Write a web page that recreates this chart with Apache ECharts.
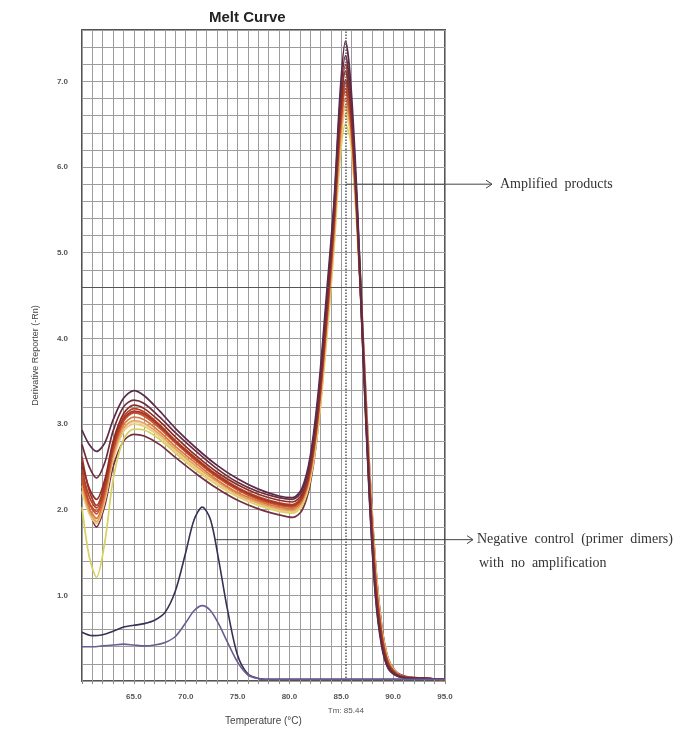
<!DOCTYPE html>
<html>
<head>
<meta charset="utf-8">
<title>Melt Curve</title>
<script src="https://cdn.jsdelivr.net/npm/echarts@6.0.0/dist/echarts.min.js"></script>
<style>
	html, body { margin: 0; padding: 0; background: #fff; }
	#melt-chart { width: 694px; height: 737px; }
</style>
</head>
<body>
<div id="melt-chart"></div>
<script>
/*DATA*/
var temps = [60, 60.7, 61.4, 62.2, 63, 64, 65, 66, 67.5, 69, 71, 73, 75, 77, 79, 80.3, 81.2, 82, 82.8, 83.6, 84.3, 84.9, 85.4, 85.9, 86.5, 87.1, 87.7, 88.3, 88.9, 89.5, 90.2, 91, 93, 95];

var amp01 = [2.93, 2.76, 2.68, 2.78, 3.05, 3.30, 3.39, 3.33, 3.15, 2.95, 2.72, 2.52, 2.36, 2.24, 2.16, 2.14, 2.25, 2.62, 3.40, 4.55, 5.60, 6.90, 7.47, 7.00, 5.70, 3.90, 2.20, 1.00, 0.42, 0.16, 0.07, 0.04, 0.03, 0.02];
var amp02 = [2.76, 2.50, 2.37, 2.55, 2.92, 3.20, 3.28, 3.24, 3.08, 2.90, 2.68, 2.48, 2.32, 2.21, 2.14, 2.12, 2.22, 2.58, 3.32, 4.45, 5.55, 6.78, 7.30, 6.85, 5.55, 3.80, 2.15, 0.98, 0.40, 0.15, 0.07, 0.04, 0.03, 0.02];
var amp03 = [2.55, 2.25, 2.12, 2.35, 2.80, 3.12, 3.22, 3.18, 3.03, 2.85, 2.63, 2.44, 2.29, 2.18, 2.11, 2.09, 2.18, 2.52, 3.25, 4.35, 5.45, 6.62, 7.12, 6.70, 5.50, 3.82, 2.20, 1.05, 0.45, 0.18, 0.08, 0.04, 0.03, 0.02];
var amp04 = [2.47, 2.15, 2.02, 2.28, 2.74, 3.08, 3.18, 3.14, 2.99, 2.81, 2.60, 2.41, 2.26, 2.15, 2.08, 2.06, 2.15, 2.48, 3.20, 4.30, 5.40, 6.55, 6.98, 6.62, 5.48, 3.85, 2.28, 1.12, 0.50, 0.20, 0.09, 0.05, 0.03, 0.02];
var amp05 = [2.40, 2.08, 1.95, 2.22, 2.70, 3.03, 3.13, 3.09, 2.95, 2.78, 2.57, 2.38, 2.23, 2.12, 2.05, 2.03, 2.12, 2.44, 3.15, 4.22, 5.32, 6.45, 6.88, 6.55, 5.45, 3.90, 2.35, 1.18, 0.52, 0.21, 0.09, 0.05, 0.03, 0.02];
var amp06 = [2.34, 2.02, 1.90, 2.18, 2.66, 2.99, 3.08, 3.05, 2.91, 2.74, 2.54, 2.35, 2.20, 2.10, 2.03, 2.01, 2.10, 2.42, 3.12, 4.18, 5.25, 6.38, 6.80, 6.50, 5.42, 3.92, 2.40, 1.22, 0.55, 0.22, 0.10, 0.05, 0.03, 0.02];
var amp07 = [2.28, 1.98, 1.86, 2.14, 2.62, 2.95, 3.04, 3.01, 2.88, 2.71, 2.51, 2.33, 2.18, 2.08, 2.01, 1.99, 2.08, 2.40, 3.08, 4.12, 5.18, 6.30, 6.72, 6.45, 5.40, 3.95, 2.45, 1.28, 0.58, 0.24, 0.10, 0.05, 0.03, 0.02];
var amp08 = [2.22, 1.95, 1.84, 2.10, 2.58, 2.91, 3.00, 2.97, 2.85, 2.68, 2.48, 2.30, 2.16, 2.06, 1.99, 1.97, 2.05, 2.36, 3.02, 4.05, 5.10, 6.22, 6.62, 6.38, 5.35, 3.92, 2.48, 1.32, 0.60, 0.25, 0.11, 0.05, 0.03, 0.02];
var amp09 = [2.03, 1.45, 1.21, 1.62, 2.35, 2.82, 2.94, 2.93, 2.82, 2.66, 2.46, 2.29, 2.15, 2.05, 1.98, 1.96, 2.04, 2.34, 2.98, 4.00, 5.05, 6.12, 6.50, 6.30, 5.30, 3.90, 2.50, 1.35, 0.62, 0.26, 0.11, 0.05, 0.03, 0.02];
var amp10 = [2.50, 2.02, 1.80, 2.05, 2.50, 2.80, 2.88, 2.86, 2.76, 2.61, 2.42, 2.25, 2.11, 2.01, 1.94, 1.91, 1.99, 2.30, 3.00, 4.10, 5.20, 6.40, 7.02, 6.72, 5.60, 4.05, 2.55, 1.38, 0.65, 0.27, 0.12, 0.06, 0.03, 0.02];
var amp11 = [2.62, 2.22, 2.05, 2.30, 2.76, 3.06, 3.15, 3.12, 2.98, 2.80, 2.59, 2.40, 2.25, 2.14, 2.07, 2.05, 2.14, 2.47, 3.18, 4.28, 5.38, 6.58, 7.20, 6.80, 5.58, 3.95, 2.35, 1.15, 0.50, 0.20, 0.09, 0.05, 0.03, 0.02];
var amp12 = [2.36, 2.08, 1.98, 2.24, 2.70, 3.04, 3.14, 3.11, 2.97, 2.79, 2.58, 2.39, 2.24, 2.13, 2.06, 2.04, 2.13, 2.46, 3.16, 4.25, 5.35, 6.50, 6.92, 6.60, 5.50, 3.98, 2.42, 1.22, 0.55, 0.22, 0.10, 0.05, 0.03, 0.02];
var amp13 = [2.20, 1.96, 1.88, 2.12, 2.60, 2.93, 3.02, 2.99, 2.86, 2.70, 2.50, 2.32, 2.17, 2.07, 2.00, 1.98, 2.06, 2.38, 3.05, 4.08, 5.15, 6.28, 6.68, 6.42, 5.38, 3.95, 2.50, 1.30, 0.60, 0.24, 0.10, 0.05, 0.03, 0.02];

// negative controls (primer dimers)
var negTemps = [60, 61, 62, 63, 64, 65, 66, 67, 68, 69, 70, 70.8, 71.6, 72.4, 73.2, 74, 75, 76, 77, 78, 80, 85, 90, 95];
var negA = [0.57, 0.53, 0.54, 0.58, 0.63, 0.65, 0.67, 0.71, 0.80, 1.05, 1.50, 1.88, 2.03, 1.88, 1.40, 0.85, 0.30, 0.08, 0.03, 0.02, 0.02, 0.02, 0.02, 0.02];
var negB = [0.40, 0.40, 0.41, 0.42, 0.43, 0.42, 0.41, 0.42, 0.45, 0.52, 0.68, 0.82, 0.88, 0.82, 0.66, 0.46, 0.22, 0.07, 0.03, 0.02, 0.02, 0.02, 0.02, 0.02];

var tmValue = 85.44;
var thresholdValue = 4.6;
var xLabels = [65, 70, 75, 80, 85, 90, 95];
var yLabels = [1, 2, 3, 4, 5, 6, 7];

var ampCurves = [amp10, amp13, amp09, amp08, amp07, amp06, amp05, amp12, amp04, amp11, amp03, amp02, amp01];
var ampColors = ['#74303f', '#f0d9a8', '#d8d060', '#ebcd80', '#e3a462', '#d9773d', '#c9562f', '#c8482a', '#b5432b', '#a5392a', '#8c2e24', '#6e2c3c', '#5b2b4b'];

/*MELT CURVE*/
function meltCurve(){
	var dom = document.getElementById('melt-chart');
	var myChart = echarts.init(dom, null, {
		renderer: 'canvas',
		useDirtyRect: false
	});

	function pairs(xs, ys){
		return xs.map(function(x, i){ return [x, ys[i]]; });
	}

	var series = [];
	ampCurves.forEach(function(curve, i){
		series.push({
			type: 'line',
			data: pairs(temps, curve),
			smooth: 0.3,
			showSymbol: false,
			lineStyle: { color: ampColors[i], width: 1.7 },
			z: 3
		});
	});
	series.push({
		type: 'line',
		data: pairs(negTemps, negA),
		smooth: 0.3,
		showSymbol: false,
		lineStyle: { color: '#3b2f55', width: 1.6 },
		z: 3
	});
	series.push({
		type: 'line',
		data: pairs(negTemps, negB),
		smooth: 0.3,
		showSymbol: false,
		lineStyle: { color: '#6c5c92', width: 1.6 },
		z: 3,
		markLine: {
			silent: true,
			symbol: 'none',
			label: { show: false },
			data: [
				{ xAxis: tmValue, lineStyle: { type: 'dotted', color: '#555', width: 1.5 } },
				{ yAxis: thresholdValue, lineStyle: { type: 'solid', color: '#555', width: 1 } }
			]
		}
	});

	var option = {
		animation: false,
		backgroundColor: '#fff',
		title: {
			text: 'Melt Curve',
			left: 204,
			top: 5,
			textStyle: {
				fontFamily: 'Liberation Sans',
				fontSize: 15,
				fontWeight: 'bold',
				color: '#222'
			}
		},
		grid: {
			left: 82,
			right: 249,
			top: 30,
			bottom: 56,
			show: true,
			borderColor: '#555',
			borderWidth: 2
		},
		xAxis: {
			type: 'value',
			min: 60,
			max: 95,
			interval: 1,
			name: 'Temperature (°C)',
			nameLocation: 'middle',
			nameGap: 35,
			nameTextStyle: { fontFamily: 'Liberation Sans', fontSize: 10, color: '#444' },
			axisLine: { show: false },
			axisTick: { show: true, length: 3, lineStyle: { color: '#888' } },
			axisLabel: {
				margin: 12,
				fontFamily: 'Liberation Sans',
				fontSize: 8,
				fontWeight: 'bold',
				color: '#555',
				formatter: function(v){
					return xLabels.indexOf(Math.round(v * 10) / 10) >= 0 ? v.toFixed(1) : '';
				}
			},
			splitLine: { show: true, lineStyle: { color: '#9c9c9c', width: 1 } }
		},
		yAxis: {
			type: 'value',
			min: 0,
			max: 7.6,
			interval: 0.2,
			name: 'Derivative Reporter (-Rn)',
			nameLocation: 'middle',
			nameGap: 42,
			nameTextStyle: { fontFamily: 'Liberation Sans', fontSize: 9, color: '#444' },
			axisLine: { show: false },
			axisTick: { show: false },
			axisLabel: {
				margin: 14,
				fontFamily: 'Liberation Sans',
				fontSize: 8,
				fontWeight: 'bold',
				color: '#555',
				formatter: function(v){
					var r = Math.round(v * 10) / 10;
					return yLabels.indexOf(r) >= 0 ? r.toFixed(1) : '';
				}
			},
			splitLine: { show: true, lineStyle: { color: '#9c9c9c', width: 1 } }
		},
		series: series
	};

	if (option && typeof option === 'object') {
		myChart.setOption(option);
	}

	// annotations anchored on data coordinates
	var ampStart = myChart.convertToPixel({ gridIndex: 0 }, [tmValue, 5.8]);
	var negStart = myChart.convertToPixel({ gridIndex: 0 }, [72.8, 1.65]);
	var tmPos = myChart.convertToPixel({ gridIndex: 0 }, [tmValue, 0]);
	var ampEnd = 492;
	var negEnd = 473;

	myChart.setOption({
		graphic: [
			{
				type: 'line',
				shape: { x1: ampStart[0], y1: ampStart[1], x2: ampEnd, y2: ampStart[1] },
				style: { stroke: '#444', lineWidth: 1 },
				z: 10
			},
			{
				type: 'polyline',
				shape: { points: [[ampEnd - 6, ampStart[1] - 4], [ampEnd, ampStart[1]], [ampEnd - 6, ampStart[1] + 4]] },
				style: { stroke: '#444', lineWidth: 1, fill: null },
				z: 10
			},
			{
				type: 'text',
				x: ampEnd + 8,
				y: ampStart[1],
				style: {
					text: 'Amplified  products',
					font: '14px "Liberation Serif"',
					fill: '#333',
					verticalAlign: 'middle'
				},
				z: 10
			},
			{
				type: 'line',
				shape: { x1: negStart[0], y1: negStart[1], x2: negEnd, y2: negStart[1] },
				style: { stroke: '#444', lineWidth: 1 },
				z: 10
			},
			{
				type: 'polyline',
				shape: { points: [[negEnd - 6, negStart[1] - 4], [negEnd, negStart[1]], [negEnd - 6, negStart[1] + 4]] },
				style: { stroke: '#444', lineWidth: 1, fill: null },
				z: 10
			},
			{
				type: 'text',
				x: negEnd + 4,
				y: negStart[1],
				style: {
					text: 'Negative  control  (primer  dimers)',
					font: '14px "Liberation Serif"',
					fill: '#333',
					verticalAlign: 'middle'
				},
				z: 10
			},
			{
				type: 'text',
				x: negEnd + 6,
				y: negStart[1] + 24,
				style: {
					text: 'with  no  amplification',
					font: '14px "Liberation Serif"',
					fill: '#333',
					verticalAlign: 'middle'
				},
				z: 10
			},
			{
				type: 'text',
				x: tmPos[0],
				y: tmPos[1] + 30,
				style: {
					text: 'Tm: 85.44',
					font: '8px "Liberation Sans"',
					fill: '#555',
					align: 'center',
					verticalAlign: 'middle'
				},
				z: 10
			}
		]
	});

	window.addEventListener('resize', myChart.resize);
}
meltCurve()
</script>
</body>
</html>
